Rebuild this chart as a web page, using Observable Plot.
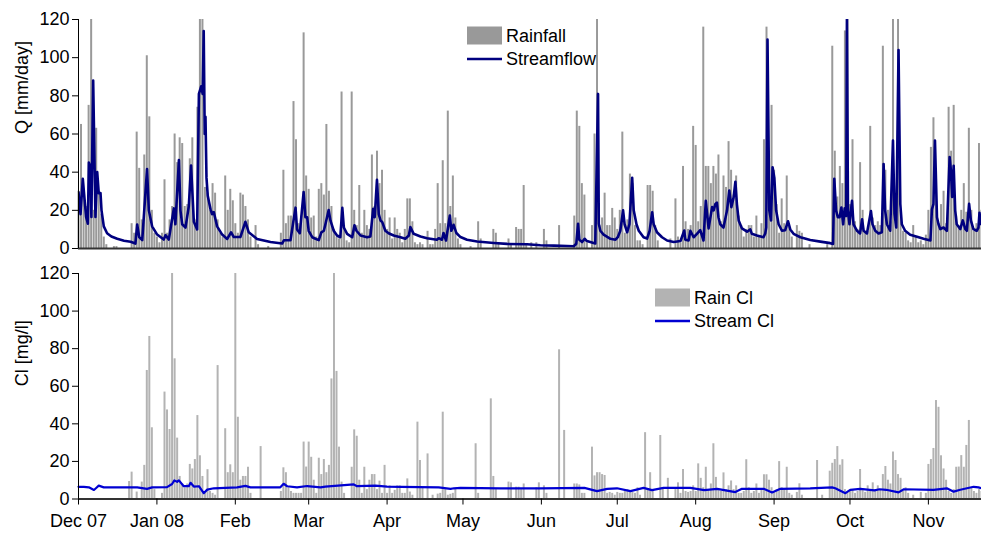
<!DOCTYPE html>
<html>
<head>
<meta charset="utf-8">
<script src="https://cdn.jsdelivr.net/npm/d3@7"></script>
<script src="https://cdn.jsdelivr.net/npm/@observablehq/plot@0.6"></script>
<style>
  html, body { margin: 0; padding: 0; background: #fff; }
  #chart { width: 981px; height: 533px; overflow: hidden; }
  #chart svg { display: block; overflow: visible; }
</style>
</head>
<body>
<div id="chart"></div>
<script>
// Daily record, 1 Dec 2007 (day 0) to 22 Nov 2008 (day 357)
const monthLabels = ["Dec 07", "Jan 08", "Feb", "Mar", "Apr", "May", "Jun", "Jul", "Aug", "Sep", "Oct", "Nov"];
const monthStarts = [0, 31, 62, 91, 122, 152, 183, 213, 244, 275, 305, 336];
const yTicks = [0, 20, 40, 60, 80, 100, 120];

// Daily rainfall, mm/day
const rainDec = [30,65,28,22,75,120,20,63,30,18, 6,2,0,0,1,1,0,0,0,0, 0,13,8,61,42,15,49,101,69,20, 8];
const rainJan = [6,3,8,36,8,15,22,60,45,58, 55,22,23,47,58,15,74,120,120,32, 29,20,34,29,15,8,6,38,20,31, 25];
const rainFeb = [13,8,29,28,22,15,6,0,12,2, 0,0,0,1,0,0,0,0,8,41, 13,17,17,77,57,13,17,113,38];
const rainMar = [31,16,17,6,31,34,28,65,30,22, 10,6,5,82,12,4,3,82,20,12, 33,8,20,12,10,49,22,51,34,41, 20];
const rainApr = [10,16,5,16,10,8,3,10,26,26, 14,3,2,3,2,0,9,2,2,10, 34,13,46,13,72,22,38,16,5,2];
const rainMay = [0,0,0,1,0,0,14,5,0,0, 0,0,10,8,3,0,0,0,5,2, 0,11,10,10,33,2,0,3,0,3, 0];
const rainJun = [0,10,4,0,0,0,0,12,0,0, 0,0,0,17,72,64,34,28,3,0, 12,60,120,12,16,29,12,12,21,16];
const rainJul = [10,20,61,8,15,39,34,12,4,4, 2,0,33,33,30,12,4,0,0,0, 0,5,0,26,6,3,43,14,10,12, 64];
const rainAug = [54,14,22,116,43,43,34,43,39,49, 14,38,32,56,41,28,38,17,12,6, 10,12,12,6,17,6,13,57,116,51, 75];
const rainSep = [41,23,8,26,13,38,11,6,0,12, 9,8,0,0,2,0,0,0,0,0, 0,2,0,106,51,27,43,34,114,120];
const rainOct = [23,57,14,10,45,20,9,9,64,16, 12,14,12,106,41,20,14,120,14,120, 20,9,8,4,3,12,6,3,4,2, 7];
const rainNov = [20,53,68.5,30,13,23,30,13,74,51, 75,17,12,20,34,19,63,20,9,13, 55,20];

// Daily chloride concentration in rain, mg/l
const clDec = [0,0,0,0,0,0,0,0,0,0, 0,0,0,0,0,0,0,0,0,0, 9.3,14.3,0,3.7,0,9,17.9,68.4,86.5,37.9, 5];
const clJan = [0,0,3,56.9,47.4,37,120,74.6,32.4,12, 8,6,8,18.4,16,21,44.4,23,12,3, 15.6,4,3,2,71,0,0,37.4,14,18.2, 14];
const clFeb = [120,43.5,10,12,12,16.9,3,0,0,0, 27.9,0,0,0,0,0,0,0,4,16.6, 14,6,4,3,3,3,3,30.3,17];
const clMar = [30.3,22.2,10,3,21.7,13,21,14,17.9,63.9, 120,67.9,27.6,9,3,0,0,16.9,36.8,33.4, 10,3,16.9,5,10,13,13,5,9.5,3, 17.9];
const clApr = [3,7,3,4.6,7,7,3,3,10.7,3.7, 2,0,40.9,20.5,6,0,24,0,2,0, 2.6,3,46.2,5,2,2.5,3,5,0,0];
const clMay = [0,0,0,0,0,29.4,3,0,0,0, 0,53.3,12,5,0,0,0,0,9,8.6, 0,6.3,6.3,5,8,0,0,0,0,6, 8.6];
const clJun = [0,7,3,0,0,0,0,79.4,0,36.5, 0,0,0,8,8,7.5,3,3,0,0, 27.6,12.3,14,14,13,12.5,3,3.5,3,2];
const clJul = [3.5,3,3,4,5,4,3.5,3,6,2, 0,35.3,5,14,4,0,0,33.8,6,0, 11,0,0,5,8.6,3,15.7,4,3.5,4, 7];
const clAug = [4,18.7,11,6,16.9,5,8,29.4,11.5,5, 4,13.9,5,7,9.6,5,7,3,3,4, 20.9,6,3,4,8,3,5,12.9,12.9,10, 6];
const clSep = [4,5,19.9,6,5,16.9,3,2,0,3.5, 8.1,2,0,0,0,0,0,20.5,0,2, 0,0,14.8,19,21,27.9,18,20.9,5,3.5];
const clOct = [4,5,3,4,15.7,5,3.5,7,4,8.6, 5,7,5,13,17.3,10,8,25,20.5,13, 11,4,6,3,0,2,0,0,3.5,0, 3];
const clNov = [18.4,21,26.9,52.4,48.8,23,16,10,4,3, 5,16.9,17,23.1,16.9,28.5,41.8,6,4,3, 5,4];

// Streamflow hydrograph, [day, Q mm/day]
const flowDecFeb = [[0,29.5],[0.8,18],[1.7,36.5],[3,16.5],[3.7,13],[4.1,45],[4.7,43],[5.1,16.5],[5.8,88],[6.7,16.5],[7.4,40],[8,29],[8.7,29],[9.1,20],[10,11.6],[11.3,8],[13,6.3],[15.3,5.1],[18,4.1],[20.6,3.5],[22.5,2.6],[23.2,12.6],[24,6],[25.2,4.4],[27.1,41.6],[27.8,20],[29.1,11.6],[31.1,7.3],[33.7,4.7],[34.4,7],[35.7,4.7],[37.7,21],[38.3,12.7],[39.7,46.3],[40.3,20],[41,12.7],[42.3,11],[43.6,22],[44.5,43.5],[45.6,14],[46.9,10],[47.6,81],[48.5,85],[49.1,81],[49.5,114],[49.9,60],[50.2,69],[50.6,37],[51.1,27.6],[52.2,20.5],[52.8,18],[53.5,19],[54.8,11.6],[56.8,7.3],[58.8,5],[60.3,8.5],[61.4,6],[64,6],[66,14],[67.3,8.5],[70.6,5],[75.9,3.4],[80.5,2.6],[81.2,4.3],[83.8,4.3],[85.8,21.4],[86.4,10],[87.5,8],[89,29.6],[89.7,16.4]];
const flowMarMay = [[90.4,16.4],[91,9.3],[92.4,5.9],[93.7,5.1],[95,4.4],[96,8.5],[97,9.3],[97.6,12.6],[98.9,20.2],[99.6,14.7],[100.9,9.3],[102.2,6.8],[103.5,5.9],[104.3,21.3],[104.9,11],[106.2,7.7],[108.2,5.9],[109.1,12.2],[109.9,9.3],[111.5,6.8],[114.1,5.9],[115.4,6.3],[116.5,20.8],[117.1,16.4],[118,36],[118.7,18],[119.4,14.7],[120.1,13.8],[121.3,9.3],[122.6,8],[124.6,6.8],[127.3,5.9],[129.2,5.1],[130.6,6.8],[131.2,11.2],[132.5,7.7],[135.2,6.3],[137.8,5.4],[141.7,4.6],[142.4,5.4],[143.7,4.6],[144.3,8.1],[145.3,4.2],[146.8,17.3],[147.4,9.3],[148.3,12.4],[149.4,8.1],[151,6],[153.6,4.6],[157.6,3.7],[164.2,2.9],[169.4,2.4],[177.3,2.2],[182.6,1.7]];
const flowJunAug = [[188,1.5],[195.8,1.2],[196.8,2.5],[197.5,13],[198,4.6],[199.1,3.4],[200.1,5.1],[201,3.9],[203,3.1],[204.3,2.6],[205.4,81],[205.7,13],[206.3,9.3],[207.6,7.3],[210.3,5.1],[212.3,4.6],[213.2,5.9],[214.2,9.3],[215.3,20],[215.9,12.7],[216.9,8.5],[217.8,12.7],[218.9,37],[219.5,20],[220.6,12.7],[221.5,9.3],[223.4,5.9],[224.8,5.2],[225.8,9.3],[226.8,19],[227.4,12.7],[228.7,8.5],[230.7,5.9],[232.7,4.2],[235.3,3.4],[238,3.9],[239.5,9.4],[239.9,4.6],[241.2,4.2],[241.9,9.3],[243.2,5.9],[244.5,7.7],[245.8,9.6],[247.1,4.2],[248,25],[249.1,10.5],[250.5,21.7],[251.1,20],[251.8,23.3],[252.4,24],[253,16.4],[253.7,12.7],[255,11],[256.4,20],[257.3,30.4],[258.1,21.7],[259,26.8],[259.7,35],[260.3,23.3],[261,14.7],[262.3,10.5],[264.3,8.8],[265.6,10],[266.2,7.7],[268.2,6.8],[270.8,5.9],[271.5,7.9],[271.9,11],[272.4,109.5],[273.1,20],[273.8,14.7],[274.4,42.6]];
const flowSepNov = [[275.1,37],[275.8,20],[276.8,12.7],[278.1,9.3],[279.4,9.6],[280.5,14.3],[281.4,10],[282.7,7.7],[285.4,5.9],[289.3,4.5],[293.3,3.6],[297.2,2.8],[298.3,2.4],[298.8,36.5],[299.5,20],[300.2,16.4],[300.9,16.4],[301.6,21.5],[302.3,12.7],[302.9,21],[303.5,17],[303.8,122],[304.2,20],[304.8,12.7],[305.8,25],[306.4,12.7],[307.8,9.3],[309,7.9],[309.8,15.3],[310.4,9.3],[311.7,7.9],[313.3,19.6],[313.9,12.7],[315,9.3],[316.3,7.9],[317.6,8.5],[318.3,44.3],[318.9,20],[319.6,12.7],[320.9,9.3],[322,56.6],[322.6,18.3],[323.3,11],[324.2,104],[324.9,23.3],[325.5,12.7],[326.8,9.3],[328.8,7.2],[331.5,6.2],[334.1,5.1],[336.8,4.2],[337.4,20.5],[338,23.3],[338.6,56.6],[339.4,16.4],[340,12.7],[340.7,10.2],[342,11],[343.3,9.3],[344.4,47.9],[344.9,41],[345.4,27],[346,43.3],[346.6,20],[347.2,12.7],[348.6,10.2],[349.6,14.7],[350.6,10.2],[351.2,9.3],[352.1,23.4],[352.8,14.7],[353.8,10.2],[355.1,9.3],[355.8,11],[356.2,18.7],[356.9,12.7]];

// Stream chloride, [day, mg/l]
const streamClPts = [[0,6.5],[2.1,6.5],[4.1,6.2],[6.1,4.8],[7.1,6],[8,7.1],[10,6.2],[23.2,6.2],[27.1,5.4],[29.1,6.2],[35,6.3],[37,8],[37.9,9.9],[39,9.1],[39.7,9.9],[41.6,6.8],[43.6,6.8],[44.3,8.6],[45.6,6.6],[47.6,6.8],[49.5,3.1],[50.9,5],[53.5,5.7],[62.7,6.2],[66,7],[68,6.2],[79.8,6.2],[81.1,8.1],[82.5,6.8],[86.4,6.2],[90.4,6.9],[95.7,6.2],[97.6,6.6],[108.8,7.8],[110.1,6.8],[117.4,7.1],[122,6.6],[127.3,6.4],[142.4,6.2],[147.1,5.4],[148.4,5.7],[151,5.9],[166.8,5.7],[182.6,5.7],[200,5.9],[205,4.2],[209,5.4],[212.9,5.7],[218.2,4.2],[223.4,5.9],[226.7,4.7],[231.3,5.9],[241.9,5.9],[247.4,4.7],[252.5,5.4],[259.7,3.7],[262.3,5.4],[270.9,5.4],[274.2,3.5],[277.5,5.4],[289.3,5.7],[297.9,6.2],[299.2,5.7],[303.2,3.1],[305.1,4.9],[309.1,5.4],[314.7,4.6],[316.7,5.2],[319.3,4.9],[324.2,3.5],[326.3,5.2],[338,4.9],[343.3,5.7],[346,3.9],[348.6,4.9],[353.9,6.5],[355.8,6.2],[357,5.7]];

// Tables for the marks
const rain = [rainDec, rainJan, rainFeb, rainMar, rainApr, rainMay, rainJun, rainJul, rainAug, rainSep, rainOct, rainNov]
  .flat().map((mm, day) => ({day, mm})).filter(d => d.mm > 0);
const rainCl = [clDec, clJan, clFeb, clMar, clApr, clMay, clJun, clJul, clAug, clSep, clOct, clNov]
  .flat().map((cl, day) => ({day, cl})).filter(d => d.cl > 0);
const flow = [...flowDecFeb, ...flowMarMay, ...flowJunAug, ...flowSepNov].map(([day, q]) => ({day, q}));
const streamCl = streamClPts.map(([day, cl]) => ({day, cl}));

const W = 981;
const xDomain = [0, 357];
const font = '"Liberation Sans", Arial, Helvetica, sans-serif';
const rainGrey = "#999999", rainClGrey = "#b3b3b3";
const flowBlue = "#00007f", clBlue = "#0000d2";

const topPlot = Plot.plot({
  width: W, height: 260,
  marginTop: 19, marginBottom: 12, marginLeft: 78, marginRight: 0,
  style: {fontFamily: font, fontSize: "18px", color: "#000", background: "transparent"},
  x: {domain: xDomain, axis: null},
  y: {domain: [0, 120]},
  marks: [
    Plot.ruleX(rain, {x: "day", y: "mm", stroke: rainGrey, strokeWidth: 2}),
    Plot.line(flow, {x: "day", y: "q", stroke: flowBlue, strokeWidth: 2.6, clip: true, strokeLinejoin: "round"}),
    Plot.ruleY([0], {stroke: "#333", strokeWidth: 2}),
    Plot.ruleX([0], {stroke: "#000", strokeWidth: 1}),
    Plot.axisY(yTicks, {tickSize: 6, tickPadding: 3, label: null, fontSize: 18}),
    Plot.text(["Q [mm/day]"], {text: d => d, frameAnchor: "left", dx: -56, rotate: -90, fontSize: 18})
  ]
});

const bottomPlot = Plot.plot({
  width: W, height: 273,
  marginTop: 13, marginBottom: 34.5, marginLeft: 78, marginRight: 0,
  style: {fontFamily: font, fontSize: "18px", color: "#000", background: "transparent"},
  x: {domain: xDomain},
  y: {domain: [0, 120]},
  marks: [
    Plot.ruleX(rainCl, {x: "day", y: "cl", stroke: rainClGrey, strokeWidth: 2}),
    Plot.line(streamCl, {x: "day", y: "cl", stroke: clBlue, strokeWidth: 2.2, strokeLinejoin: "round"}),
    Plot.ruleY([0], {stroke: "#333", strokeWidth: 2}),
    Plot.ruleX([0], {stroke: "#000", strokeWidth: 1}),
    Plot.axisY(yTicks, {tickSize: 6, tickPadding: 3, label: null, fontSize: 18}),
    Plot.axisX(monthStarts, {
      tickSize: 6, tickPadding: 9, label: null, fontSize: 18,
      tickFormat: d => monthLabels[monthStarts.indexOf(d)]
    }),
    Plot.text(["Cl [mg/l]"], {text: d => d, frameAnchor: "left", dx: -56, rotate: -90, fontSize: 18})
  ]
});

// Legends drawn inside each panel
function legend(svg, x, y, items) {
  const g = d3.select(svg).append("g")
    .attr("font-family", font).attr("font-size", 18).attr("fill", "#000")
    .attr("text-anchor", "start");
  items.forEach((it, i) => {
    const cy = y + i * 23.5;
    if (it.kind === "bar") {
      g.append("rect").attr("x", x).attr("y", cy - 9).attr("width", 35).attr("height", 18).attr("fill", it.color);
    } else {
      g.append("line").attr("x1", x).attr("x2", x + 35).attr("y1", cy).attr("y2", cy)
        .attr("stroke", it.color).attr("stroke-width", 2.6);
    }
    g.append("text").attr("x", x + 39).attr("y", cy).attr("dy", "0.35em").text(it.label);
  });
}
legend(topPlot, 467, 35.5, [
  {kind: "bar", color: rainGrey, label: "Rainfall"},
  {kind: "line", color: flowBlue, label: "Streamflow"}
]);
legend(bottomPlot, 655, 37.5, [
  {kind: "bar", color: rainClGrey, label: "Rain Cl"},
  {kind: "line", color: clBlue, label: "Stream Cl"}
]);

const chart = document.getElementById("chart");
chart.append(topPlot, bottomPlot);
</script>
</body>
</html>
